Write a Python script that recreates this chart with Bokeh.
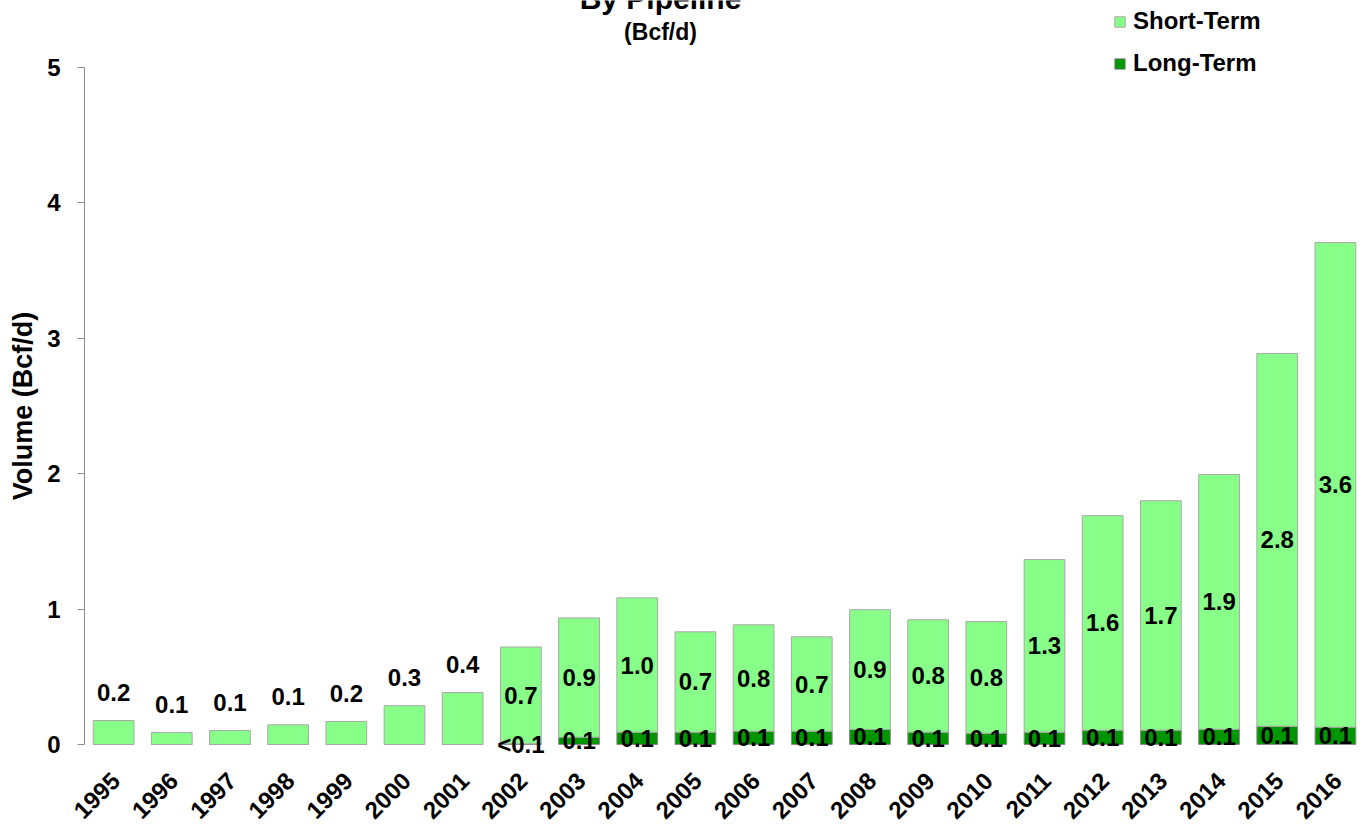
import math
from bokeh.plotting import figure
from bokeh.models import (ColumnDataSource, Range1d, Legend, LegendItem,
                          Label, FixedTicker)
from bokeh.core.properties import value
from bokeh.embed import file_html
from bokeh.resources import INLINE

# ---------------- data ----------------
years = [str(y) for y in range(1995, 2017)]
long_term = [0.0, 0.0, 0.0, 0.0, 0.0, 0.0, 0.0, 0.005, 0.054, 0.091, 0.091,
             0.098, 0.098, 0.111, 0.091, 0.083, 0.091, 0.106, 0.106, 0.113,
             0.135, 0.128]
short_term = [0.177, 0.089, 0.103, 0.145, 0.170, 0.286, 0.384, 0.715, 0.881,
              0.992, 0.741, 0.786, 0.697, 0.884, 0.830, 0.825, 1.275, 1.584,
              1.694, 1.881, 2.753, 3.579]
short_labels = ["0.2", "0.1", "0.1", "0.1", "0.2", "0.3", "0.4", "0.7", "0.9",
                "1.0", "0.7", "0.8", "0.7", "0.9", "0.8", "0.8", "1.3", "1.6",
                "1.7", "1.9", "2.8", "3.6"]
long_labels = ["", "", "", "", "", "", "", "<0.1", "0.1", "0.1", "0.1", "0.1",
               "0.1", "0.1", "0.1", "0.1", "0.1", "0.1", "0.1", "0.1", "0.1",
               "0.1"]
y_ticks = [0, 1, 2, 3, 4, 5]

FONT = "Liberation Sans"
LIGHT = "#88FF88"
DARK = "#009600"

# category positions (one slot per year)
xs = list(range(len(years)))

# ---------------- figure ----------------
W, H = 1366, 824
XSTART, XEND = -1.944, len(years) - 0.466
YSTART, YEND = -0.591, 5.495
p = figure(x_range=Range1d(XSTART, XEND), y_range=Range1d(YSTART, YEND),
           width=W, height=H, output_backend="svg", toolbar_location=None,
           min_border_left=0, min_border_right=0, min_border_top=0,
           min_border_bottom=0)
p.outline_line_color = None
p.xgrid.grid_line_color = None
p.ygrid.grid_line_color = None
p.background_fill_color = "white"
p.xaxis.visible = False

src = ColumnDataSource(dict(x=xs, years=years, long=long_term, short=short_term))
rs = p.vbar_stack(["long", "short"], x="x", width=0.7, source=src,
                  fill_color=[DARK, LIGHT], line_color=["#8a8a8a", "#a8a8a8"],
                  line_width=1)

# data labels
in_x, in_y, in_t, out_x, out_y, out_t = [], [], [], [], [], []
for i, lo, sh, t in zip(xs, long_term, short_term, short_labels):
    if lo > 0:
        in_x.append(i); in_y.append(lo + sh / 2.0); in_t.append(t)
    else:
        out_x.append(i); out_y.append(lo + sh); out_t.append(t)
lx, ly, lt = [], [], []
for i, lo, t in zip(xs, long_term, long_labels):
    if t:
        lx.append(i); ly.append(lo / 2.0); lt.append(t)

common = dict(text_font=value(FONT), text_font_style="bold",
              text_font_size="24px", text_color="black", text_align="center",
              text_baseline="middle")
p.text(x=in_x, y=in_y, text=in_t, **common)
p.text(x=out_x, y=out_y, text=out_t, y_offset=-28, **common)
p.text(x=lx, y=ly, text=lt, **common)

# category (year) labels, rotated 45 degrees below the baseline
p.text(x=xs, y=[0] * len(xs), text=years, angle=math.pi / 4,
       x_offset=2, y_offset=32, text_font=value(FONT), text_font_style="bold",
       text_font_size="24px", text_color="black", text_align="right",
       text_baseline="middle")

# y axis, pinned at the left edge of the first category slot
ya = p.yaxis[0]
ya.fixed_location = -0.5
ya.ticker = FixedTicker(ticks=y_ticks)
ya.bounds = (0, 5)
ya.axis_line_color = "#8c8c8c"
ya.major_tick_line_color = "#8c8c8c"
ya.major_tick_out = 7
ya.major_tick_in = 0
ya.minor_tick_line_color = None
ya.major_label_text_font = FONT
ya.major_label_text_font_style = "bold"
ya.major_label_text_font_size = "24px"
ya.major_label_text_color = "black"
ya.major_label_standoff = 17
ya.axis_label = "Volume (Bcf/d)"
ya.axis_label_text_font = FONT
ya.axis_label_text_font_style = "bold"
ya.axis_label_text_font_size = "27px"
ya.axis_label_text_color = "black"
ya.axis_label_standoff = 6

# legend
legend = Legend(items=[LegendItem(label="Short-Term", renderers=[rs[1]]),
                       LegendItem(label="Long-Term", renderers=[rs[0]])],
                location=(1113, 747), padding=0, margin=0, spacing=14,
                label_height=22, glyph_height=13, glyph_width=13,
                label_standoff=7, border_line_color=None,
                background_fill_alpha=0,
                label_text_font=FONT, label_text_font_style="bold",
                label_text_font_size="24px", label_text_color="black")
p.add_layout(legend)

# titles (the main title is cut by the top edge, as in the original)
p.add_layout(Label(x=9.40, y=5.509, text="By Pipeline", text_font=FONT,
                   text_font_style="bold", text_font_size="30px",
                   text_color="black",
                   text_align="center", text_baseline="alphabetic"))
p.add_layout(Label(x=9.40, y=5.259, text="(Bcf/d)", text_font=FONT,
                   text_font_style="bold", text_font_size="23px",
                   text_color="black",
                   text_align="center", text_baseline="middle"))

open("out.html", "w").write(file_html(p, INLINE))
